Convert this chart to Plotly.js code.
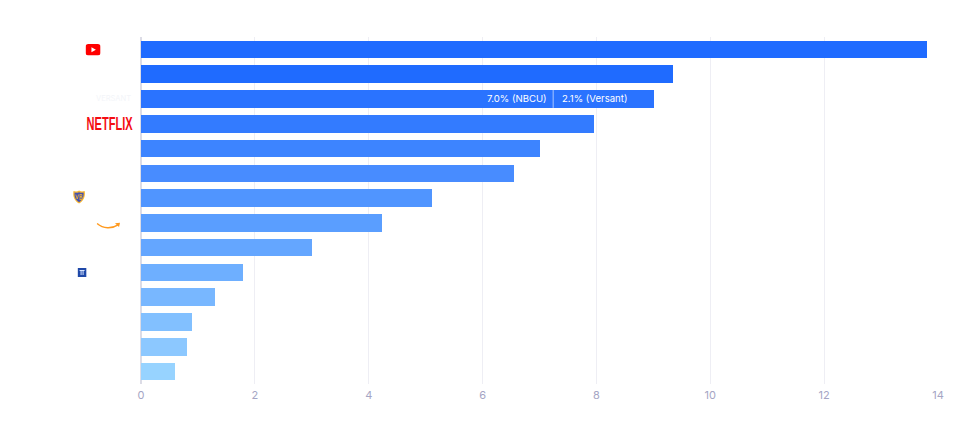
<!DOCTYPE html>
<html>
<head>
<meta charset="utf-8">
<script src="https://cdn.plot.ly/plotly-3.0.1.min.js"></script>
<style>
  html, body { margin: 0; padding: 0; background: #fff; }
  #chart { width: 958px; height: 424px; }
</style>
</head>
<body>
<div id="chart"></div>
<script>
// The reference shows logos instead of names, unreadable rows keep a neutral id
const categories = ['YouTube', 'Row 2', 'NBCU / Versant', 'Netflix', 'Row 5', 'Row 6', 'Warner Bros.',
  'Amazon', 'Row 9', 'Row 10', 'Row 11', 'Row 12', 'Row 13', 'Row 14'];
const shareValues = [13.8, 9.34, 7.24, 7.95, 7.0, 6.55, 5.12, 4.23, 3.0, 1.8, 1.3, 0.9, 0.8, 0.6];
const versantCategory = ['NBCU / Versant'];
const versantValues = [1.77];
const nbcuLabel = '7.0% (NBCU)';
const versantLabel = '2.1% (Versant)';
const barColors = ['#1f6bff', '#1f6bff', '#2a73ff', '#337bff', '#3d84ff', '#488cff', '#5095ff',
  '#5a9eff', '#64a6ff', '#6eafff', '#78b7ff', '#82c0ff', '#8cc8ff', '#97d3ff'];
const tickValues = [0, 2, 4, 6, 8, 10, 12, 14];

const svgUri = svg => 'data:image/svg+xml;base64,' + btoa(svg);

// Logos, placed in pixels of the figure
const W = 958, H = 424;
function logo(svg, px, py, w, h) {
  return { source: svgUri(svg), xref: 'paper', yref: 'paper', xanchor: 'left', yanchor: 'top', layer: 'above',
    x: (px - 140.5) / (W - 160), y: 1 - (py - 37) / (H - 77), sizex: w / (W - 160), sizey: h / (H - 77), sizing: 'stretch' };
}
const youtubeSvg = '<svg xmlns="http://www.w3.org/2000/svg" viewBox="0 0 16 12"><rect width="16" height="12" rx="3" fill="#f00"/><path d="M6.3 3.3v5.4L11 6z" fill="#fff"/></svg>';
const wbSvg = '<svg xmlns="http://www.w3.org/2000/svg" viewBox="0 0 14 14"><path d="M7 .5C9 1.8 11 1.6 13 1c1.2 5-1 10-6 12.5C2 11 -.2 6 1 1c2 .6 4 .8 6-.5z" fill="#f7b733"/><path d="M7 2.200C8.600 3 10 3 11.800 2.600c.6 3.800-1 7.600-4.800 9.600C3.200 10.200 1.600 6.400 2.200 2.600 4 3 5.400 3 7 2.200z" fill="#4450b0"/><path d="M3.500 4.500L5 9 6.500 4.500M8 4v6M8 4.500h2v2H8M8 7h2.200v2.500H8" stroke="#f7b733" stroke-width=".8" fill="none"/></svg>';
const amazonSvg = '<svg xmlns="http://www.w3.org/2000/svg" viewBox="0 0 24 8"><path d="M.5 1.500C7 7 15 7 21.500 2.800" stroke="#ff9a1f" stroke-width="1.600" fill="none"/><path d="M18.500 1.300L23.500 .7 22.500 5z" fill="#ff9a1f"/></svg>';
const towerSvg = '<svg xmlns="http://www.w3.org/2000/svg" viewBox="0 0 9 9"><rect width="9" height="9" fill="#1f48a8"/><path d="M2 2h5v1H2zM3 3h1v4H3zM5 3h1v4H5z" fill="#d7e4ff"/></svg>';

const data = [
  {
    type: 'bar', orientation: 'h', y: categories, x: shareValues,
    marker: { color: barColors, line: { width: 0 } }, hoverinfo: 'x+y'
  },
  {
    type: 'bar', orientation: 'h', y: versantCategory, x: versantValues,
    marker: { color: barColors[2], line: { width: 0 } }, hoverinfo: 'x+y'
  }
];

const layout = {
  width: W,
  height: H,
  barmode: 'stack',
  bargap: 0.29,
  showlegend: false,
  paper_bgcolor: '#ffffff',
  plot_bgcolor: '#ffffff',
  margin: { l: 140.5, r: 19.5, t: 37, b: 40 },
  font: { family: 'Inter, sans-serif', size: 11, color: '#a5a5c4' },
  xaxis: {
    range: [0, 14], tickvals: tickValues, ticks: '', fixedrange: true,
    showgrid: true, gridcolor: '#eeeef4', gridwidth: 1,
    zeroline: true, zerolinecolor: '#dcdce6', zerolinewidth: 2, showline: false, ticklabelstandoff: 3,
    tickfont: { family: 'Inter, sans-serif', size: 11, color: '#a5a5c4' }
  },
  yaxis: {
    type: 'category', autorange: 'reversed', showticklabels: false, ticks: '', fixedrange: true,
    showgrid: false, zeroline: false, showline: false
  },
  shapes: [
    { type: 'line', xref: 'x', yref: 'y', x0: shareValues[2], x1: shareValues[2], y0: 1.64, y1: 2.36,
      line: { color: '#a9c6ff', width: 1 }, layer: 'above' }
  ],
  annotations: [
    { xref: 'x', yref: 'y', x: shareValues[2], y: categories[2], text: nbcuLabel, showarrow: false,
      xanchor: 'right', xshift: -4, font: { family: 'Inter, sans-serif', size: 9.6, color: '#ffffff' } },
    { xref: 'x', yref: 'y', x: shareValues[2], y: categories[2], text: versantLabel, showarrow: false,
      xanchor: 'left', xshift: 7, font: { family: 'Inter, sans-serif', size: 9.6, color: '#ffffff' } },
    { xref: 'paper', yref: 'y', x: -0.0395, y: categories[3], text: 'NETFLIX', showarrow: false, xanchor: 'center',
      font: { family: 'Liberation Sans, sans-serif', size: 19, color: '#f40d12', weight: 700 } },
    { xref: 'paper', yref: 'y', x: -0.035, y: categories[2], text: 'VERSANT', showarrow: false, xanchor: 'center',
      font: { family: 'Inter, sans-serif', size: 7.5, color: '#f3f5f9' } }
  ],
  images: [
    logo(youtubeSvg, 85, 44, 15, 11.5),
    logo(wbSvg, 72, 190, 13, 14),
    logo(amazonSvg, 96, 222, 24, 8),
    logo(towerSvg, 77, 268, 9, 9)
  ]
};

Plotly.newPlot('chart', data, layout, { displayModeBar: false, responsive: false }).then(() => {
  // Netflix wordmark is condensed, no such font installed
  document.querySelectorAll('.annotation-text').forEach(t => {
    if (t.textContent === 'NETFLIX') {
      t.setAttribute('textLength', 46);
      t.setAttribute('lengthAdjust', 'spacingAndGlyphs');
    }
  });
});
</script>
</body>
</html>
